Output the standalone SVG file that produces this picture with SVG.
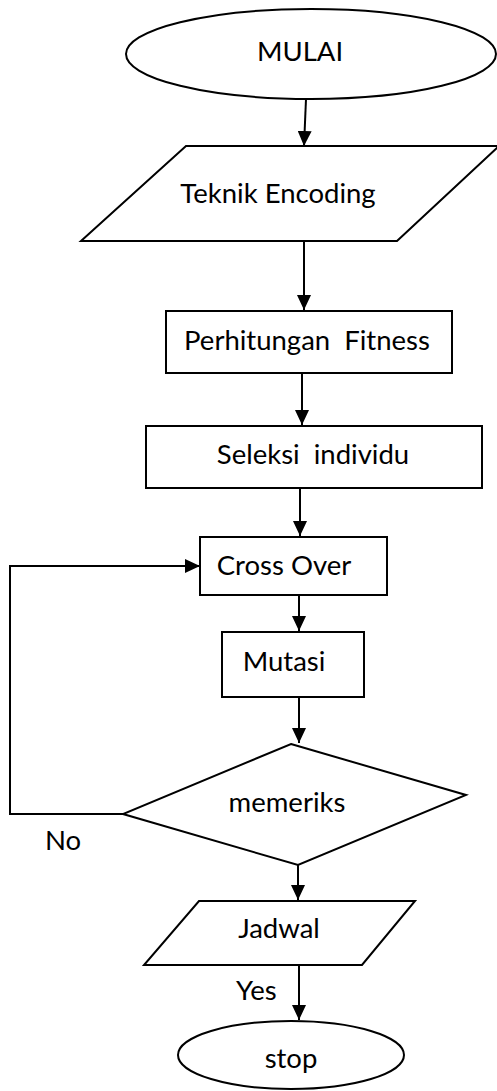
<svg xmlns="http://www.w3.org/2000/svg" width="497" height="1091" viewBox="0 0 497 1091">
<style>
.s{fill:#fff;stroke:#000;stroke-width:2}
.t{font-family:Lato,"Liberation Sans",sans-serif;font-size:27.5px;fill:#000;text-anchor:middle}
.l{font-family:Lato,"Liberation Sans",sans-serif;font-size:27.5px;fill:#000}
.c{fill:none;stroke:#000;stroke-width:2;marker-end:url(#ah)}
</style>
<defs>
<marker id="ah" markerUnits="userSpaceOnUse" markerWidth="15" markerHeight="14" refX="15" refY="7" orient="auto">
<path d="M0,0 L15,7 L0,14 z" fill="#000"/>
</marker>
</defs>
<rect width="497" height="1091" fill="#fff"/>
<g id="connectors">
<line class="c" x1="306" y1="99" x2="304" y2="146"/>
<line class="c" x1="304" y1="241" x2="304" y2="310"/>
<line class="c" x1="302" y1="373" x2="302" y2="425"/>
<line class="c" x1="300" y1="488" x2="300" y2="536"/>
<line class="c" x1="299" y1="595" x2="299" y2="631"/>
<line class="c" x1="299" y1="697" x2="299" y2="743"/>
<line class="c" x1="298" y1="865" x2="298" y2="900"/>
<line class="c" x1="299" y1="965" x2="299" y2="1020"/>
<path class="c" d="M123,814 L10,814 L10,566 L200,566"/>
<text class="l" x="45" y="850">No</text>
<text class="l" x="236" y="1000">Yes</text>
</g>
<g id="mulai">
<ellipse class="s" cx="311" cy="54" rx="185" ry="45"/>
<text class="t" x="300" y="61">MULAI</text>
</g>
<g id="encoding">
<polygon class="s" points="186,146 499,146 397,241 81,241"/>
<text class="t" x="278" y="203">Teknik Encoding</text>
</g>
<g id="fitness">
<rect class="s" x="166" y="311" width="286" height="62"/>
<text class="t" x="307" y="350" xml:space="preserve">Perhitungan  Fitness</text>
</g>
<g id="seleksi">
<rect class="s" x="146" y="426" width="336" height="62"/>
<text class="t" x="313" y="464" xml:space="preserve">Seleksi  individu</text>
</g>
<g id="crossover">
<rect class="s" x="200" y="537" width="187" height="58"/>
<text class="t" x="284" y="575">Cross Over</text>
</g>
<g id="mutasi">
<rect class="s" x="222" y="632" width="142" height="65"/>
<text class="t" x="284" y="671">Mutasi</text>
</g>
<g id="memeriks">
<polygon class="s" points="291,744 466,795 298,865 123,814"/>
<text class="t" x="287" y="812">memeriks</text>
</g>
<g id="jadwal">
<polygon class="s" points="199,901 415,901 362,965 144,965"/>
<text class="t" x="279" y="938">Jadwal</text>
</g>
<g id="stop">
<ellipse class="s" cx="291" cy="1055" rx="113" ry="34"/>
<text class="t" x="291" y="1068">stop</text>
</g>
</svg>
